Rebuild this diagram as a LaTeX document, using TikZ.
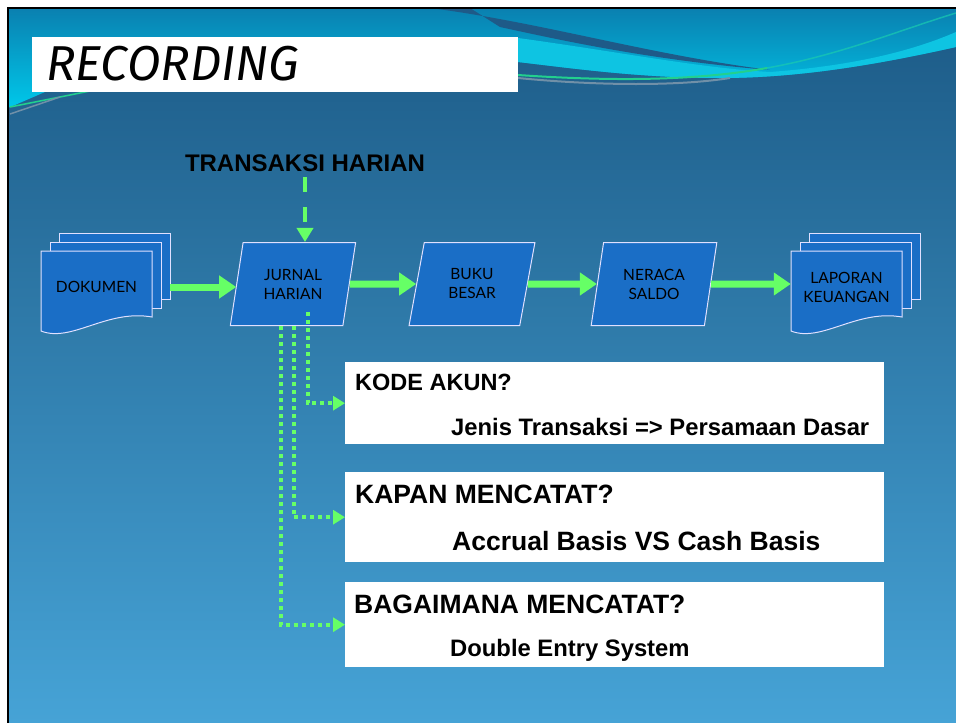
\documentclass[tikz,border=0pt]{standalone}
\usepackage{fontspec}
\setmainfont{Liberation Sans}
\newfontfamily\flowfont{Lato}
\newfontfamily\titlefont{Fira Sans}
\usetikzlibrary{arrows.meta,shapes.geometric,calc,positioning}

\definecolor{bgtop}{HTML}{1C5A86}
\definecolor{bgmid}{HTML}{3080B4}
\definecolor{bgbot}{HTML}{46A3D6}
\definecolor{wavetop}{HTML}{0A80B0}
\definecolor{wavebot}{HTML}{00C8EA}
\definecolor{wavelight}{HTML}{0EC4E2}
\definecolor{wavedark}{HTML}{1E5A88}
\definecolor{wavegreen}{HTML}{22D08E}
\definecolor{wavegray}{HTML}{7090A8}
\definecolor{flowblue}{HTML}{1A6EC6}
\definecolor{arrowgreen}{HTML}{66FF66}

% stack of three sheets: name, x, y, text
\newcommand\docstack[4]{%
  \foreach \s in {18,9}
    \draw[S] (#2-55.5+\s,#3-36-\s) rectangle (#2+55.5+\s,#3+30-\s);
  \draw[S] (#2-55.5,#3-36) -- (#2+55.5,#3-36) -- (#2+55.5,#3+30)
    .. controls (#2+10,#3+22) and (#2-25,#3+56) .. (#2-55.5,#3+44) -- cycle;
  \node[D] (#1) at (#2,#3) {#4};}

\begin{document}
\begin{tikzpicture}[x=1pt, y=-1pt,
    S/.style = {fill=flowblue, draw=white!88!blue, line width=1pt},% sheets
    D/.style = {minimum width=111pt, minimum height=72pt, inner sep=0pt,
                align=center, text=black,
                font=\flowfont\fontsize{15.5}{19}\selectfont},
    P/.style = {trapezium, trapezium left angle=76, trapezium right angle=104,
                trapezium stretches=true, minimum width=126pt, minimum height=83pt,
                fill=flowblue, draw=white!88!blue, line width=1pt, inner sep=0pt,
                align=center, text=black,
                font=\flowfont\fontsize{15.5}{19}\selectfont},% steps
    Q/.style = {fill=white, minimum width=539pt, inner sep=0pt, anchor=north west},
    T/.style = {anchor=base west, inner sep=0pt, text=black},
    G/.style = {draw=arrowgreen, line width=7pt, -{Triangle[length=17pt,width=22pt]}},
   GD/.style = {draw=arrowgreen, line width=4pt, dash pattern=on 15pt off 15pt,
                -{Triangle[length=14pt,width=16pt]}},
   GO/.style = {draw=arrowgreen, line width=4pt, dash pattern=on 4pt off 4pt,
                -{Triangle[length=12pt,width=14pt]}},
                        ]
\useasboundingbox (0,0) rectangle (956,723);
\fill[white] (0,0) rectangle (956,723);
% background and waves
\shade[top color=bgtop, middle color=bgmid, bottom color=bgbot] (8,8) rectangle (956,723);
\shade[top color=wavetop, bottom color=wavebot] (8,8) -- (956,8) -- (956,47)
    .. controls (880,64) and (800,78) .. (720,78)
    .. controls (640,78) and (570,68) .. (518,62) -- (45,92) -- (8,108) -- cycle;
\fill[wavelight] (518,38) .. controls (620,52) and (700,68) .. (770,72)
    .. controls (850,66) and (910,52) .. (956,32) -- (956,47)
    .. controls (880,64) and (800,78) .. (720,78)
    .. controls (640,78) and (570,68) .. (518,62) -- cycle;
\fill[wavedark] (430,8) .. controls (540,22) and (650,55) .. (770,70)
    .. controls (650,60) and (560,40) .. (500,27) -- (470,8) -- cycle;
\draw[wavegreen, line width=2pt] (518,75) .. controls (620,82) and (700,80) .. (767,68);
\draw[wavegreen!60!wavelight, line width=1.5pt, opacity=0.7] (767,68)
    .. controls (840,55) and (900,30) .. (956,13);
\draw[wavegray, line width=2pt] (518,78) .. controls (600,86) and (680,86) .. (730,78);
\draw[wavegreen, line width=1.5pt] (10,107) -- (90,91);
\draw[wavegray, line width=1.5pt] (10,114) -- (60,97);
\draw[line width=2.5pt] (8,723) -- (8,8) -- (956,8);

\node[fill=white, minimum width=486pt, minimum height=55pt, inner sep=0pt,
      anchor=north west] (titlebox) at (32,37) {};
\node[anchor=west, inner sep=0pt, font=\titlefont\itshape\fontsize{49}{49}\selectfont]
      (title) at (46,64) {RECORDING};

\node[font=\bfseries\fontsize{24}{28}\selectfont] (trans) at (305,163) {TRANSAKSI HARIAN};

\docstack{dok}{96.5}{287}{DOKUMEN}
\node[P] (jurnal) at (293,284) {JURNAL\\HARIAN};
\node[P] (buku) at (472,284) {BUKU\\BESAR};
\node[P] (neraca) at (654,284) {NERACA\\SALDO};
\docstack{lap}{846.5}{287}{LAPORAN\\KEUANGAN}

\node[Q, minimum height=82pt] (kode) at (345,362) {};
\node[Q, minimum height=90pt] (kapan) at (345,472) {};
\node[Q, minimum height=85pt] (bagai) at (345,582) {};
\node[T, font=\bfseries\fontsize{23.5}{28}\selectfont] (kodeq)
      at ($(kode.north west)+(10,28)$) {KODE AKUN?};
\node[T, font=\bfseries\fontsize{23.8}{28}\selectfont] (kodea)
      at ($(kode.north west)+(106,73.5)$) {Jenis Transaksi => Persamaan Dasar};
\node[T, font=\bfseries\fontsize{26.5}{30}\selectfont] (kapanq)
      at ($(kapan.north west)+(10,31.5)$) {KAPAN MENCATAT?};
\node[T, font=\bfseries\fontsize{26.5}{30}\selectfont] (kapana)
      at ($(kapan.north west)+(107,78.5)$) {Accrual Basis VS Cash Basis};
\node[T, font=\bfseries\fontsize{26.5}{30}\selectfont] (bagaiq)
      at ($(bagai.north west)+(9,31.5)$) {BAGAIMANA MENCATAT?};
\node[T, font=\bfseries\fontsize{23.8}{28}\selectfont] (bagaia)
      at ($(bagai.north west)+(105,74.5)$) {Double Entry System};

% connectors
\draw[G] ([xshift=18pt]dok.east) -- (dok.east -| jurnal.west);
\draw[G] (jurnal) -- (buku);
\draw[G] (buku) -- (neraca);
\draw[G] (neraca) -- (neraca -| lap.west);
\draw[GD] ([yshift=-2pt]trans.south) -- (trans.south |- jurnal.north);
\coordinate (j1) at ([xshift=-12.5pt]jurnal.center |- jurnal.south);
\coordinate (j2) at ([xshift=0.5pt]jurnal.center |- jurnal.south);
\coordinate (j3) at ([xshift=14.5pt,yshift=14pt]jurnal.center |- jurnal.south);
\draw[GO] (j3) |- (kode.west);
\draw[GO] (j2) |- (kapan.west);
\draw[GO] (j1) |- (bagai.west);
\end{tikzpicture}
\end{document}
